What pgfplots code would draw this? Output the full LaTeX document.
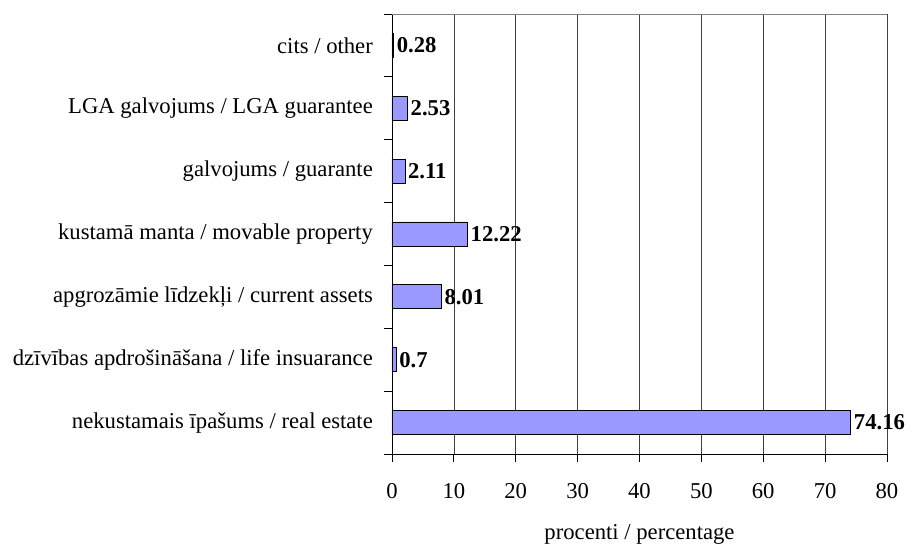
\documentclass[border=0pt]{standalone}
\usepackage{fontspec}
\setmainfont{Liberation Serif}
\usepackage{pgfplots}
\pgfplotsset{compat=1.18}
\definecolor{barfill}{HTML}{9999FF}
\begin{document}
\fontsize{17}{20}\selectfont
\begin{tikzpicture}
\begin{axis}[
  name=ax,
  scale only axis,
  width=371.25pt, height=330pt,
  xbar, bar width=18pt,
  xmin=0, xmax=80,
  ymin=-0.5, ymax=6.5,
  xtick={0,10,...,80},
  ytick={0,...,6},
  yticklabels={nekustamais īpašums / real estate, dzīvības apdrošināšana / life insuarance, apgrozāmie līdzekļi / current assets, kustamā manta / movable property, galvojums / guarante, LGA galvojums / LGA guarantee, cits / other},
  minor ytick={-0.5,0.5,...,6.5},
  major tick length=6pt,
  minor tick length=6pt,
  every major y tick/.style={draw=none},
  tick align=outside,
  tick pos=left,
  axis x line*=bottom,
  axis y line*=left,
  axis line style={-, black, line width=0.6pt},
  xmajorgrids,
  major x grid style={black!75, line width=0.5pt},
  tick style={black, line width=0.6pt},
  /pgf/number format/assume math mode=true,
  tick label style={font=\fontsize{17}{20}\selectfont},
  xticklabel style={yshift=-10pt},
  yticklabel style={xshift=-2.5pt},
  xlabel={procenti / percentage},
  xlabel style={font=\fontsize{17}{20}\selectfont, yshift=-8pt},
  nodes near coords,
  nodes near coords style={font=\fontsize{17}{20}\selectfont\bfseries, anchor=west, inner sep=2pt},
  clip=false,
]
\addplot[fill=barfill, draw=black, line width=0.6pt] coordinates {
  (74.16,0) (0.7,1) (8.01,2) (12.22,3) (2.11,4) (2.53,5) (0.28,6)
};
\draw[gray, line width=0.6pt] (rel axis cs:0,1) -- (rel axis cs:1,1);
\end{axis}
\pgfresetboundingbox
\path ([shift={(-294pt,-72pt)}]ax.south west) rectangle ([shift={(21pt,10.5pt)}]ax.north east);
\end{tikzpicture}
\end{document}
